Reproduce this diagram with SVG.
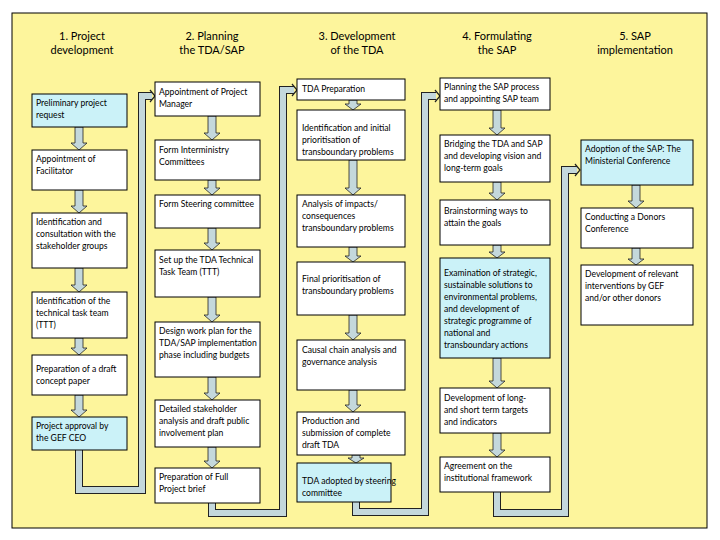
<svg xmlns="http://www.w3.org/2000/svg" width="720" height="540" viewBox="0 0 720 540">
<style>
.b{fill:#fff;stroke:#000;stroke-width:1}
.c{fill:#cbf2f8;stroke:#000;stroke-width:1}
.t{font-family:Lato,"Liberation Sans",sans-serif;font-size:8.6px;fill:#000}
.h{font-family:Lato,"Liberation Sans",sans-serif;font-size:11px;fill:#000;text-anchor:middle}
.da{fill:#c4d8dc;stroke:#222;stroke-width:0.8}
.lo{fill:none;stroke:#222;stroke-width:8}
.li{fill:none;stroke:#c4d8dc;stroke-width:6}
</style>
<rect x="0" y="0" width="720" height="540" fill="#fff"/>
<rect x="12" y="13" width="695" height="515" fill="#fdf59c" stroke="#000" stroke-width="1"/>
<g id="headers">
<text class="h" x="82" y="40">1. Project</text><text class="h" x="82" y="54">development</text>
<text class="h" x="212" y="40">2. Planning</text><text class="h" x="212" y="54">the TDA/SAP</text>
<text class="h" x="357" y="40">3. Development</text><text class="h" x="357" y="54">of the TDA</text>
<text class="h" x="497" y="40">4. Formulating</text><text class="h" x="497" y="54">the SAP</text>
<text class="h" x="635" y="40">5. SAP</text><text class="h" x="635" y="54">implementation</text>
</g>
<g id="connectors">
<path class="lo" d="M79 450 V490 H142 V96 H152"/><path class="li" d="M79 450 V490 H142 V96 H152"/>
<path class="lo" d="M212 503 V513 H283 V90 H294"/><path class="li" d="M212 503 V513 H283 V90 H294"/>
<path class="lo" d="M356 502 V512 H425 V96 H436"/><path class="li" d="M356 502 V512 H425 V96 H436"/>
<path class="lo" d="M497 492 V513 H565 V170 H577"/><path class="li" d="M497 492 V513 H565 V170 H577"/>
<g fill="none" stroke="#222" stroke-width="1.2">
<path d="M150 90 L155 96 L150 102"/><path d="M292 84 L297 90 L292 96"/><path d="M435 90 L440 96 L435 102"/><path d="M575 164 L580 170 L575 176"/>
</g>
<g class="da">
<path d="M75 127 H83 V143 H87 L79 150 L71 143 H75 Z"/>
<path d="M75 190 H83 V206 H87 L79 213 L71 206 H75 Z"/>
<path d="M75 268 H83 V285 H87 L79 292 L71 285 H75 Z"/>
<path d="M75 338 H83 V348 H87 L79 355 L71 348 H75 Z"/>
<path d="M75 395 H83 V410 H87 L79 417 L71 410 H75 Z"/>
<path d="M208 116 H216 V133 H220 L212 140 L204 133 H208 Z"/>
<path d="M208 180 H216 V188 H220 L212 195 L204 188 H208 Z"/>
<path d="M208 228 H216 V243 H220 L212 250 L204 243 H208 Z"/>
<path d="M208 297 H216 V315 H220 L212 322 L204 315 H208 Z"/>
<path d="M208 377 H216 V393 H220 L212 400 L204 393 H208 Z"/>
<path d="M208 447 H216 V461 H220 L212 468 L204 461 H208 Z"/>
<path d="M349 100 H357 V104 H361 L353 110 L345 104 H349 Z"/>
<path d="M349 160 H357 V188 H361 L353 195 L345 188 H349 Z"/>
<path d="M349 247 H357 V256 H361 L353 262 L345 256 H349 Z"/>
<path d="M349 315 H357 V333 H361 L353 340 L345 333 H349 Z"/>
<path d="M349 390 H357 V405 H361 L353 412 L345 405 H349 Z"/>
<path d="M352 455 H360 V458 H364 L356 463 L348 458 H352 Z"/>
<path d="M493 110 H501 V128 H505 L497 135 L489 128 H493 Z"/>
<path d="M493 182 H501 V193 H505 L497 200 L489 193 H493 Z"/>
<path d="M493 245 H501 V252 H505 L497 258 L489 252 H493 Z"/>
<path d="M493 358 H501 V381 H505 L497 388 L489 381 H493 Z"/>
<path d="M493 433 H501 V450 H505 L497 457 L489 450 H493 Z"/>
<path d="M632 185 H640 V201 H644 L636 208 L628 201 H632 Z"/>
<path d="M632 248 H640 V259 H644 L636 265 L628 259 H632 Z"/>
</g>
</g>
<g id="n1a"><rect class="c" x="32" y="94" width="95" height="33"/><text class="t" x="36" y="106">Preliminary project</text><text class="t" x="36" y="118">request</text></g>
<g id="n1b"><rect class="b" x="32" y="150" width="95" height="40"/><text class="t" x="36" y="162">Appointment of</text><text class="t" x="36" y="174">Facilitator</text></g>
<g id="n1c"><rect class="b" x="32" y="213" width="95" height="55"/><text class="t" x="36" y="225">Identification and</text><text class="t" x="36" y="237">consultation with the</text><text class="t" x="36" y="249">stakeholder groups</text></g>
<g id="n1d"><rect class="b" x="32" y="292" width="95" height="46"/><text class="t" x="36" y="304">Identification of the</text><text class="t" x="36" y="316">technical task team</text><text class="t" x="36" y="328">(TTT)</text></g>
<g id="n1e"><rect class="b" x="32" y="355" width="95" height="40"/><text class="t" x="36" y="372">Preparation of a draft</text><text class="t" x="36" y="384">concept paper</text></g>
<g id="n1f"><rect class="c" x="32" y="417" width="95" height="33"/><text class="t" x="36" y="429">Project approval by</text><text class="t" x="36" y="441">the GEF CEO</text></g>
<g id="n2a"><rect class="b" x="155" y="82" width="105" height="34"/><text class="t" x="159" y="95">Appointment of Project</text><text class="t" x="159" y="107">Manager</text></g>
<g id="n2b"><rect class="b" x="155" y="140" width="105" height="40"/><text class="t" x="159" y="153">Form Interministry</text><text class="t" x="159" y="165">Committees</text></g>
<g id="n2c"><rect class="b" x="155" y="195" width="105" height="33"/><text class="t" x="159" y="207">Form Steering committee</text></g>
<g id="n2d"><rect class="b" x="155" y="250" width="105" height="47"/><text class="t" x="159" y="263">Set up the TDA Technical</text><text class="t" x="159" y="275">Task Team (TTT)</text></g>
<g id="n2e"><rect class="b" x="155" y="322" width="105" height="55"/><text class="t" x="159" y="334">Design work plan for the</text><text class="t" x="159" y="346">TDA/SAP implementation</text><text class="t" x="159" y="358">phase including budgets</text></g>
<g id="n2f"><rect class="b" x="155" y="400" width="105" height="47"/><text class="t" x="159" y="412">Detailed stakeholder</text><text class="t" x="159" y="424">analysis and draft public</text><text class="t" x="159" y="436">involvement plan</text></g>
<g id="n2g"><rect class="b" x="155" y="468" width="105" height="35"/><text class="t" x="159" y="480">Preparation of Full</text><text class="t" x="159" y="492">Project brief</text></g>
<g id="n3a"><rect class="b" x="297" y="79" width="108" height="21"/><text class="t" x="302" y="92">TDA Preparation</text></g>
<g id="n3b"><rect class="b" x="297" y="110" width="108" height="50"/><text class="t" x="302" y="131">Identification and initial</text><text class="t" x="302" y="143">prioritisation of</text><text class="t" x="302" y="155">transboundary problems</text></g>
<g id="n3c"><rect class="b" x="297" y="195" width="108" height="52"/><text class="t" x="302" y="207">Analysis of impacts/</text><text class="t" x="302" y="219">consequences</text><text class="t" x="302" y="231">transboundary problems</text></g>
<g id="n3d"><rect class="b" x="297" y="262" width="108" height="53"/><text class="t" x="302" y="282">Final prioritisation of</text><text class="t" x="302" y="294">transboundary problems</text></g>
<g id="n3e"><rect class="b" x="297" y="340" width="108" height="50"/><text class="t" x="302" y="353">Causal chain analysis and</text><text class="t" x="302" y="365">governance analysis</text></g>
<g id="n3f"><rect class="b" x="297" y="412" width="108" height="43"/><text class="t" x="302" y="424">Production and</text><text class="t" x="302" y="436">submission of complete</text><text class="t" x="302" y="448">draft TDA</text></g>
<g id="n3g"><rect class="c" x="297" y="463" width="94" height="39"/><text class="t" x="302" y="484">TDA adopted by steering</text><text class="t" x="302" y="496">committee</text></g>
<g id="n4a"><rect class="b" x="440" y="78" width="110" height="32"/><text class="t" x="444" y="90">Planning the SAP process</text><text class="t" x="444" y="102">and appointing SAP team</text></g>
<g id="n4b"><rect class="b" x="440" y="135" width="110" height="47"/><text class="t" x="444" y="147">Bridging the TDA and SAP</text><text class="t" x="444" y="159">and developing vision and</text><text class="t" x="444" y="171">long-term goals</text></g>
<g id="n4c"><rect class="b" x="440" y="200" width="110" height="45"/><text class="t" x="444" y="214">Brainstorming ways to</text><text class="t" x="444" y="226">attain the goals</text></g>
<g id="n4d"><rect class="c" x="440" y="258" width="110" height="100"/><text class="t" x="444" y="276">Examination of strategic,</text><text class="t" x="444" y="288">sustainable solutions to</text><text class="t" x="444" y="300">environmental problems,</text><text class="t" x="444" y="312">and development of</text><text class="t" x="444" y="324">strategic programme of</text><text class="t" x="444" y="336">national and</text><text class="t" x="444" y="348">transboundary actions</text></g>
<g id="n4e"><rect class="b" x="440" y="388" width="110" height="45"/><text class="t" x="444" y="401">Development of long-</text><text class="t" x="444" y="413">and short term targets</text><text class="t" x="444" y="425">and indicators</text></g>
<g id="n4f"><rect class="b" x="440" y="457" width="110" height="35"/><text class="t" x="444" y="469">Agreement on the</text><text class="t" x="444" y="481">institutional framework</text></g>
<g id="n5a"><rect class="c" x="581" y="140" width="112" height="45"/><text class="t" x="585" y="152">Adoption of the SAP: The</text><text class="t" x="585" y="164">Ministerial Conference</text></g>
<g id="n5b"><rect class="b" x="581" y="208" width="112" height="40"/><text class="t" x="585" y="220">Conducting a Donors</text><text class="t" x="585" y="232">Conference</text></g>
<g id="n5c"><rect class="b" x="581" y="265" width="112" height="60"/><text class="t" x="585" y="277">Development of relevant</text><text class="t" x="585" y="289">interventions by GEF</text><text class="t" x="585" y="301">and/or other donors</text></g>
</svg>
